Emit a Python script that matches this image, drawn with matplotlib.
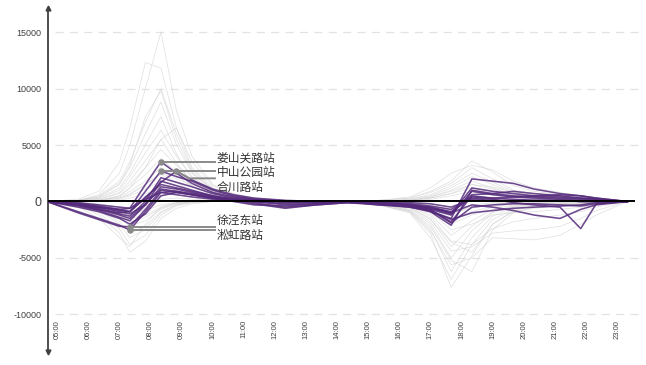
import matplotlib
matplotlib.use('Agg')
import matplotlib.pyplot as plt

# ---------------- data ----------------
times = ["04:40", "05:40", "06:20", "07:00", "07:20", "07:50", "08:20", "08:50", "09:20",
         "10:00", "10:40", "11:20", "12:20", "13:20", "14:20", "15:20", "16:20", "17:00",
         "17:40", "18:20", "19:00", "19:40", "20:20", "21:10", "21:50", "22:20", "23:20"]

hour_labels = ["05:00", "06:00", "07:00", "08:00", "09:00", "10:00", "11:00", "12:00", "13:00",
               "14:00", "15:00", "16:00", "17:00", "18:00", "19:00", "20:00", "21:00", "22:00", "23:00"]

y_ticks = [-10000, -5000, 0, 5000, 10000, 15000]

# other stations (grey)
grey_a1 = [0, 100, 600, 2500, 5000, 10000, 15000, 8000, 4000, 1500, 700, 300, 100, 0, 0, -300, -900, -2800, -7600, -4800, -2000, -900, -600, -400, -200, -100, 0]
grey_a2 = [0, 200, 900, 3500, 6500, 12300, 11800, 6500, 3000, 1200, 600, 300, 100, 0, -100, -300, -1000, -3200, -6900, -3800, -1600, -700, -400, -300, -200, -100, 0]
grey_a3 = [0, 100, 500, 1800, 3500, 7000, 10000, 6000, 2800, 1100, 500, 200, 0, 0, 0, -200, -800, -2400, -6200, -3200, -1300, -500, -300, -200, -100, 0, 0]
grey_a4 = [0, 100, 400, 1500, 3000, 6000, 8800, 5000, 2500, 1000, 400, 200, 0, -100, 0, -300, -900, -2600, -5600, -5000, -3200, -3300, -3400, -3000, -2000, -1200, 0]
grey_a5 = [0, 100, 300, 1200, 2500, 5000, 7500, 4200, 2000, 800, 400, 100, 0, 0, -100, -200, -700, -2000, -5000, -2600, -1000, -400, -300, -200, -100, 0, 0]
grey_a6 = [0, 50, 300, 1000, 2200, 4300, 6300, 4000, 2200, 900, 300, 100, -100, 0, 0, -200, -600, -1800, -4400, -4000, -2800, -2600, -2500, -2200, -1500, -800, 0]
grey_a7 = [0, 50, 200, 800, 1800, 3600, 5500, 3400, 1700, 700, 300, 100, 0, 0, 0, -100, -500, -1500, -4000, -2200, -900, -400, -200, -100, 0, 0, 0]
grey_a8 = [0, 0, 200, 700, 1500, 3000, 4600, 3200, 1900, 800, 400, 200, 100, 0, 0, -100, -400, -1300, -3500, -3800, -2400, -1800, -1500, -1200, -900, -500, 0]
grey_a9 = [0, 0, 100, 500, 1200, 2400, 3800, 2600, 1400, 600, 200, 100, 0, 0, 0, -100, -400, -1100, -3000, -1700, -700, -300, -200, -100, 0, 0, 0]
grey_a10 = [0, 0, 100, 400, 900, 1800, 3000, 2300, 1300, 600, 300, 100, 0, 0, 0, -100, -300, -900, -2500, -2000, -1200, -1000, -900, -700, -500, -300, 0]
grey_a11 = [0, 0, 100, 300, 700, 1500, 2400, 1700, 900, 400, 200, 0, 0, 0, 0, -100, -300, -800, -2000, -1200, -500, -200, -100, 0, 0, 0, 0]
grey_a12 = [0, 0, 0, 200, 500, 1100, 1800, 1400, 800, 400, 100, 0, 0, 0, 0, 0, -200, -600, -1500, -900, -400, -200, -100, 0, 0, 0, 0]
grey_a13 = [0, 0, 0, 100, 300, 700, 1200, 900, 500, 200, 100, 0, 0, 0, 0, 0, -100, -400, -1000, -600, -300, -100, 0, 0, 0, 0, 0]
grey_a14 = [0, 0, 100, 500, 1200, 3000, 5500, 6500, 3500, 1400, 600, 200, 100, 0, 0, -100, -500, -1600, -3600, -4500, -2000, -800, -400, -200, -100, 0, 0]
grey_a15 = [0, 100, 400, 1600, 3200, 7500, 9800, 5500, 2600, 1000, 400, 200, 0, 0, 0, -200, -800, -2200, -5200, -6200, -2500, -1000, -500, -300, -200, -100, 0]
grey_b1 = [0, -300, -1200, -2800, -4500, -3500, -1500, -600, -200, 0, 0, 0, 0, 0, 0, 100, 300, 900, 1800, 3600, 2600, 1400, 900, 600, 400, 200, 0]
grey_b2 = [0, -300, -1000, -2400, -3800, -3000, -1200, -400, -100, 0, 0, 0, 0, 0, 0, 100, 300, 800, 1600, 3000, 2000, 1000, 700, 500, 300, 100, 0]
grey_b3 = [0, -200, -800, -2000, -3200, -2500, -1000, -300, -100, 0, 0, 0, 0, 0, 0, 0, 200, 600, 1400, 2500, 1700, 900, 600, 400, 200, 100, 0]
grey_b4 = [0, -200, -700, -1800, -2800, -2200, -900, -300, 0, 0, 0, 0, 0, 0, 0, 0, 200, 500, 1200, 2200, 1500, 800, 500, 300, 200, 100, 0]
grey_b5 = [0, -200, -600, -1400, -2200, -1700, -700, -200, 0, 0, 0, 0, 0, 0, 0, 0, 100, 400, 1000, 1800, 1200, 600, 400, 200, 100, 0, 0]
grey_b6 = [0, -100, -500, -1100, -1800, -1400, -600, -200, 0, 0, 0, 0, 0, 0, 0, 0, 100, 400, 900, 1500, 1100, 600, 400, 200, 100, 0, 0]
grey_b7 = [0, -100, -400, -900, -1500, -1200, -500, -100, 0, 0, 0, 0, 0, 0, 0, 0, 100, 300, 700, 1200, 900, 500, 300, 200, 100, 0, 0]
grey_b8 = [0, -100, -300, -600, -1000, -800, -300, -100, 0, 0, 0, 0, 0, 0, 0, 0, 0, 200, 500, 900, 700, 400, 200, 100, 0, 0, 0]
grey_b9 = [0, -400, -1500, -3200, -4000, -2000, -500, -100, 0, 0, 0, 0, 0, 0, 0, 100, 400, 1200, 2500, 3200, 2800, 1800, 1200, 800, 500, 200, 0]
grey_b10 = [0, -100, -300, -800, -1300, -600, 200, 300, 200, 100, 0, 0, 0, 0, 0, 0, 100, 300, 700, 1500, 1300, 800, 500, 300, 200, 100, 0]
grey_c1 = [0, 0, 100, 300, 600, 1500, 2500, 2000, 1500, 800, 400, 200, 100, 0, 0, 0, -100, -300, -800, -300, -100, 0, 0, 0, 0, 0, 0]
grey_c2 = [0, -100, -200, -500, -800, -400, 500, 1200, 900, 500, 200, 0, -100, -100, 0, -100, -200, -500, -1200, -400, -200, -100, 0, 0, 0, 0, 0]

grey_series = [grey_a1, grey_a2, grey_a3, grey_a4, grey_a5, grey_a6, grey_a7, grey_a8, grey_a9,
               grey_a10, grey_a11, grey_a12, grey_a13, grey_a14, grey_a15, grey_b1, grey_b2,
               grey_b3, grey_b4, grey_b5, grey_b6, grey_b7, grey_b8, grey_b9, grey_b10,
               grey_c1, grey_c2]

# highlighted stations (purple)
loushanguan = [0, -250, -500, -700, -600, 1500, 3520, 2500, 1600, 800, 400, 200, 0, -100, 0, -200, -400, -700, -1200, 900, 600, 400, 300, 200, 100, 50, 0]
zhongshan = [0, -300, -700, -1000, -900, 900, 2700, 2200, 1800, 1000, 500, 200, 0, -100, -100, -200, -500, -900, -1500, 2000, 1800, 1600, 1100, 700, 500, 300, 0]
hechuan = [0, -200, -500, -800, -900, 300, 1700, 2700, 1900, 1100, 600, 300, 100, 0, 0, -200, -400, -800, -1800, 500, 300, 200, 100, 100, 0, 0, 0]
xujingdong = [0, -1000, -1600, -2200, -2230, -700, 1000, 800, 600, 300, 100, 0, -300, -200, 0, -200, -400, -600, -1000, -300, -500, -800, -1200, -1500, -700, -300, 0]
songhong = [0, -900, -1500, -2100, -2520, -900, 800, 900, 700, 400, 200, 0, -200, -100, 0, -200, -300, -500, -900, 300, 200, -100, -300, -500, -2400, -200, 0]
purple_6 = [0, -300, -600, -1100, -1300, 0, 2100, 1700, 1300, 700, 300, 100, -100, 0, 0, -100, -300, -900, -2100, 1000, 700, 500, 400, 300, 200, 100, 0]
purple_7 = [0, -400, -800, -1400, -1700, -300, 1800, 1400, 1000, 500, 200, -100, -500, -300, -100, -300, -500, -800, -1600, -1000, -800, -600, -500, -400, -300, -100, 0]
purple_8 = [0, -200, -400, -700, -900, 400, 1500, 1200, 900, 500, 200, 100, 0, 0, 0, -100, -200, -400, -700, 400, 300, 400, 500, 600, 500, 300, 0]
purple_9 = [0, -500, -900, -1500, -2000, -1100, 500, 800, 600, 300, 100, -200, -600, -300, -100, -200, -300, -600, -1100, 1200, 900, 700, 500, 400, 300, 200, 0]
purple_10 = [0, -300, -700, -1200, -1500, -200, 1100, 900, 600, 300, 0, -300, -400, -200, 0, -300, -400, -700, -1900, -500, -300, -200, -200, -300, -400, -200, 0]
purple_11 = [0, -100, -300, -500, -600, 200, 800, 600, 400, 200, 100, 0, 0, 0, 0, -100, -100, -200, -500, 200, 100, 100, 100, 100, 0, 0, 0]
purple_12 = [0, -200, -500, -900, -1100, -300, 1300, 1100, 800, 400, 200, 100, 0, -100, 0, -200, -300, -500, -1000, 600, 700, 900, 700, 500, 300, 200, 0]

purple_series = [loushanguan, zhongshan, hechuan, xujingdong, songhong, purple_6, purple_7,
                 purple_8, purple_9, purple_10, purple_11, purple_12]

# annotation: (label, series, index of annotated point)
annotations = [("娄山关路站", loushanguan, 6),
               ("中山公园站", zhongshan, 6),
               ("合川路站", hechuan, 7),
               ("徐泾东站", xujingdong, 4),
               ("淞虹路站", songhong, 4)]

# ---------------- plot ----------------
def to_hours(s):
    h, m = s.split(":")
    return int(h) + int(m) / 60.0

x = [to_hours(t) for t in times]
hour_pos = [to_hours(h) for h in hour_labels]

W, H = 646, 365
fig = plt.figure(figsize=(W / 100, H / 100), dpi=100)
fig.patch.set_facecolor("white")
ax = fig.add_axes([47.5 / W, 1 - 352 / H, (640 - 47.5) / W, (352 - 8) / H])
XMIN, XMAX = 4.685, 23.74
ax.set_xlim(XMIN, XMAX)
ax.set_ylim(-13320, 17125)

# grid lines
for g in y_ticks:
    if g != 0:
        ax.hlines(g, 4.93, XMAX, colors="#e2e2e2", linestyles=(0, (6.5, 5)), lw=0.9, zorder=0)

for s in grey_series:
    ax.plot(x, s, color="#d2d2d2", lw=0.5, alpha=0.7, zorder=1)

for s in purple_series:
    ax.plot(x, s, color="#552a7c", lw=1.15, alpha=0.85, zorder=3)

# zero line
ax.hlines(0, XMIN, 23.57, colors="black", lw=1.4, zorder=5)

# spines & arrows
for sp in ["top", "right", "bottom"]:
    ax.spines[sp].set_visible(False)
ax.spines["left"].set_color("#404040")
ax.spines["left"].set_linewidth(1.3)
ax.plot([0], [1], marker="^", color="#404040", ms=3.5, transform=ax.transAxes, clip_on=False, zorder=6)
ax.plot([0], [0], marker="v", color="#404040", ms=3.5, transform=ax.transAxes, clip_on=False, zorder=6)

# ticks
ax.set_xticks(hour_pos)
ax.set_xticklabels(hour_labels, fontsize=5.5, color="#404040", family="Liberation Sans")
ax.tick_params(axis="x", length=0, pad=-23, labelrotation=90)
ax.set_yticks(y_ticks)
ax.set_yticklabels([str(v) for v in y_ticks], fontsize=6.5, color="#404040", family="Liberation Sans")
ax.tick_params(axis="y", length=0, pad=4.5)
for lab in ax.get_yticklabels():
    if lab.get_text() == "0":
        lab.set_fontsize(9)

# annotations
cjk = ["Noto Sans CJK SC", "DejaVu Sans"]
lead_end = 10.07
text_x = 10.13
label_y = {"娄山关路站": 3850, "中山公园站": 2610, "合川路站": 1280, "徐泾东站": -1640, "淞虹路站": -3050}
gcol = "#8a8a8a"
for name, s, i in annotations:
    px, py = x[i], s[i]
    ax.plot([px], [py], "o", color=gcol, ms=3.6, zorder=7)
    if name == "合川路站":
        ax.plot([px, px + 0.4, lead_end], [py, py - 650, py - 650], color=gcol, lw=1.4, zorder=7)
    else:
        ax.plot([px, lead_end], [py, py], color=gcol, lw=1.4, zorder=7)
    ax.text(text_x, label_y[name], name, fontsize=8.5, va="center", ha="left",
            color="#333333", family=cjk, zorder=8)

fig.savefig("out.png", dpi=100, facecolor="white")
